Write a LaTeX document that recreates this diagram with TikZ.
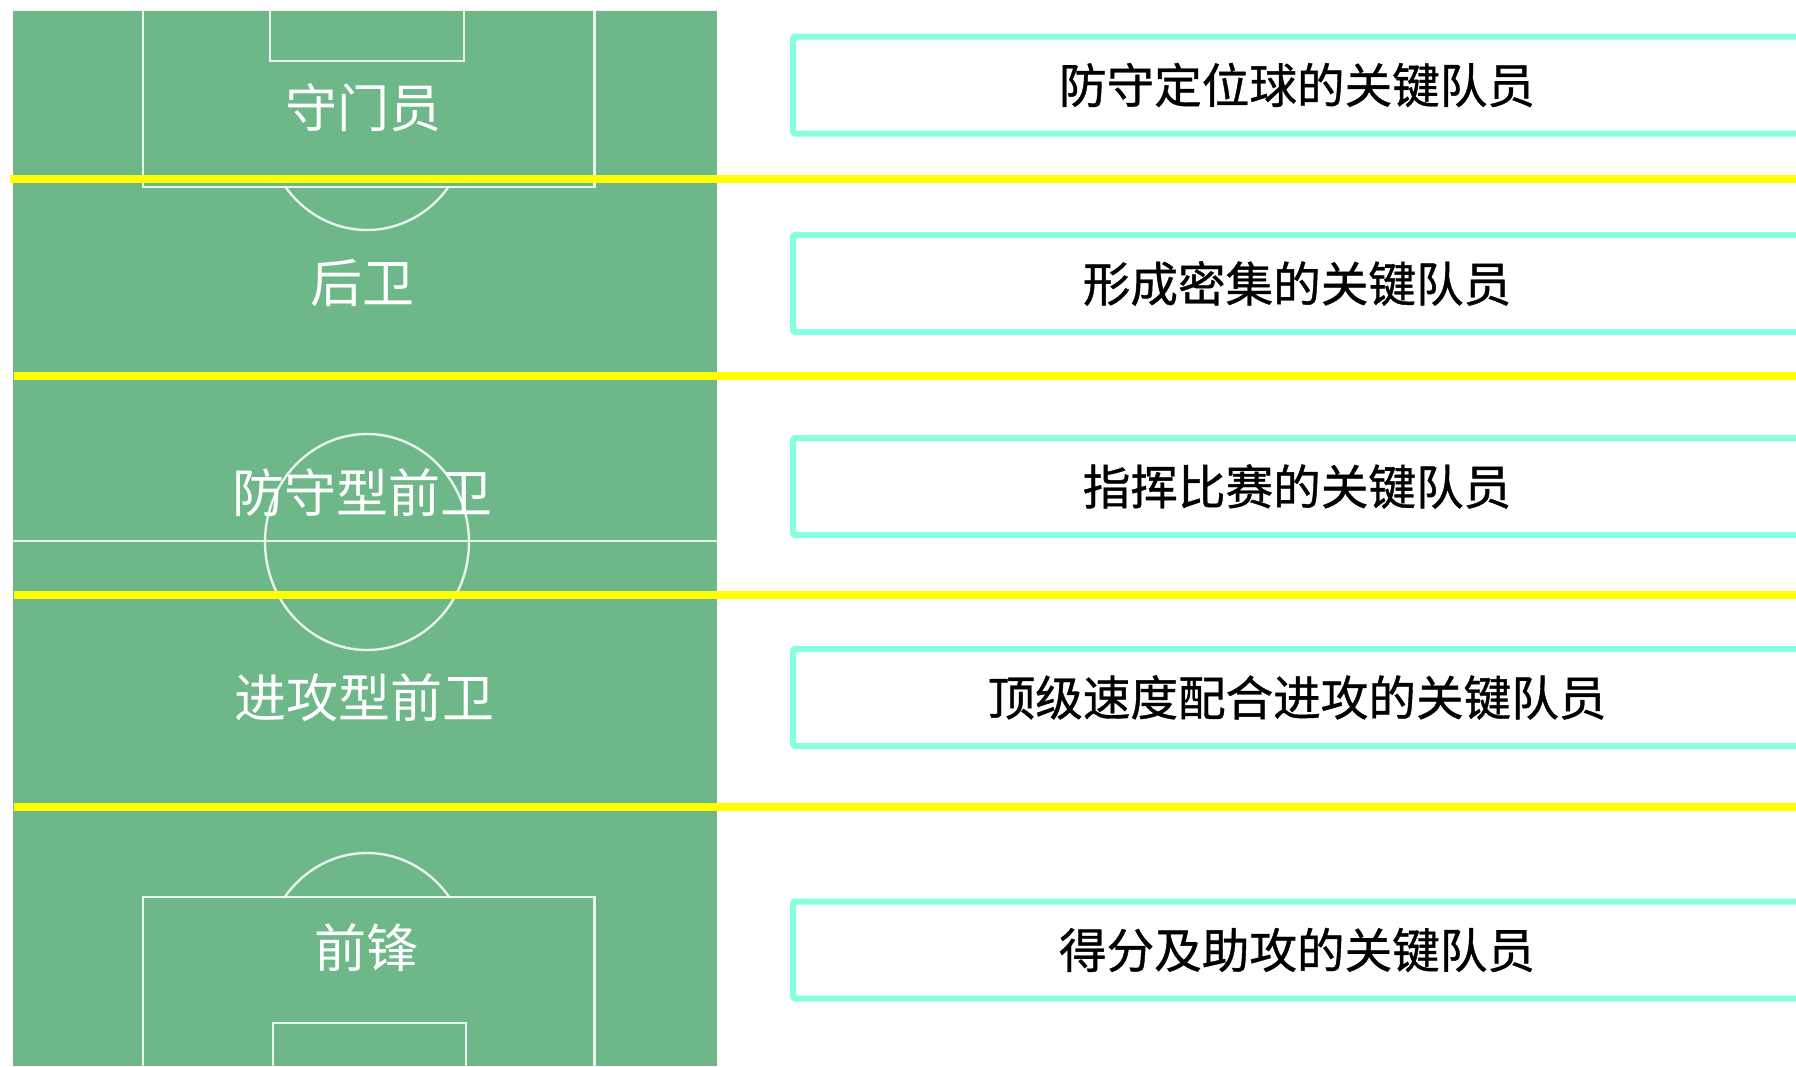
\documentclass[tikz,border=0pt]{standalone}
\usepackage{fontspec}
\newfontfamily\cjk{Noto Sans CJK SC}
\newfontfamily\cjkheavy[FakeBold=0.8]{Noto Sans CJK SC}
\definecolor{pitch}{RGB}{109,183,137}
\definecolor{aqua}{RGB}{136,255,222}
\definecolor{yel}{RGB}{255,255,0}
\tikzset{
  pline/.style={draw=white, draw opacity=0.85, line width=2.4},
  divider/.style={draw=yel, line width=8},
  poslabel/.style={text=white, inner sep=0, font=\cjk\fontsize{52}{56}\selectfont},
  keybox/.style={draw=aqua, line width=6, rounded corners=2, fill=white,
    minimum width=1008, minimum height=97, inner sep=0,
    font=\cjkheavy\fontsize{47.6}{52}\selectfont, text=black},
}
\begin{document}
\begin{tikzpicture}[x=1pt,y=-1pt]
\clip (0,0) rectangle (1796,1066);
\fill[white] (0,0) rectangle (1796,1066);
% pitch
\fill[pitch] (12.7,9.5) rectangle (716.7,1066);
\draw[pline] (12.7,10) -- (716.7,10);
% top penalty area and goal area
\draw[pline] (143,10) -- (143,186.7) -- (594.6,186.7) -- (594.6,10);
\draw[pline] (270,10) -- (270,60.7) -- (464,60.7) -- (464,10);
\begin{scope}
  \clip (0,186.7) rectangle (800,400);
  \draw[pline] (367,122) ellipse [x radius=102, y radius=108];
\end{scope}
% halfway line and centre circle
\draw[pline] (12.7,541) -- (716.7,541);
\draw[pline] (367,542) ellipse [x radius=102, y radius=108];
% bottom penalty area and goal area
\draw[pline] (143,1070) -- (143,897) -- (594.6,897) -- (594.6,1070);
\draw[pline] (273,1070) -- (273,1023) -- (466,1023) -- (466,1070);
\begin{scope}
  \clip (0,700) rectangle (800,897);
  \draw[pline] (367,961) ellipse [x radius=102, y radius=108];
\end{scope}
% position labels
\node[poslabel] (gk) at (363,108) {守门员};
\node[poslabel] (df) at (362,283) {后卫};
\node[poslabel] (dm) at (362,493) {防守型前卫};
\node[poslabel] (am) at (364,698) {进攻型前卫};
\node[poslabel] (fw) at (366,948) {前锋};
% yellow dividers
\coordinate (y1a) at (10,179);   \coordinate (y1b) at (1800,179);
\coordinate (y2a) at (14,375.5); \coordinate (y2b) at (1800,375.5);
\coordinate (y3a) at (14,595);   \coordinate (y3b) at (1800,595);
\coordinate (y4a) at (14,806.7); \coordinate (y4b) at (1800,806.7);
\draw[divider] (y1a) -- (y1b);
\draw[divider] (y2a) -- (y2b);
\draw[divider] (y3a) -- (y3b);
\draw[divider] (y4a) -- (y4b);
% role boxes
\node[keybox] (r1) at (1297,85)    {防守定位球的关键队员};
\node[keybox] (r2) at (1297,283.5) {形成密集的关键队员};
\node[keybox] (r3) at (1297,486.5) {指挥比赛的关键队员};
\node[keybox] (r4) at (1297,697.5) {顶级速度配合进攻的关键队员};
\node[keybox] (r5) at (1297,950)   {得分及助攻的关键队员};
\end{tikzpicture}
\end{document}
